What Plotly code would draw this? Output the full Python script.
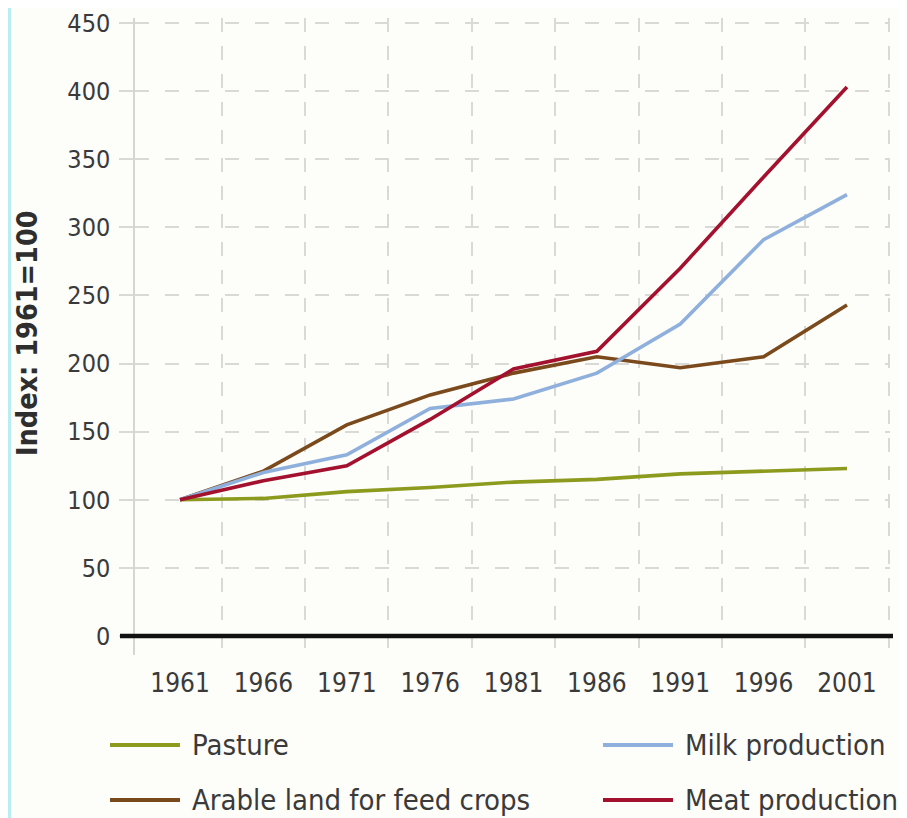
import plotly.graph_objects as go

# ---- data ----
years = [1961, 1966, 1971, 1976, 1981, 1986, 1991, 1996, 2001]
pasture = [100, 101, 106, 109, 113, 115, 119, 121, 123]
arable = [100, 121, 155, 177, 193, 205, 197, 205, 243]
milk = [100, 120, 133, 167, 174, 193, 229, 291, 324]
meat = [100, 114, 125, 159, 196, 209, 270, 337, 403]

series_names = ["Pasture", "Arable land for feed crops", "Milk production", "Meat production"]
series_values = [pasture, arable, milk, meat]
series_colors = ["#8c9a1e", "#7b4a1c", "#8fb0dc", "#a3112e"]

y_ticks = [0, 50, 100, 150, 200, 250, 300, 350, 400, 450]
year_bounds = [1963.5, 1968.5, 1973.5, 1978.5, 1983.5, 1988.5, 1993.5, 1998.5, 2003.5]
y_title = "Index: 1961=100"

FONT = "DejaVu Sans Condensed, DejaVu Sans, sans-serif"
TXT = "#3a3a3a"
GRID = "#d9d9d6"

OFF = 8  # page body margin in the browser
W, H = 907 - OFF, 818 - OFF
L, R, T, B = 127, 17, 10, 163
pw, ph = W - L - R, H - T - B


def px_x(p):
    return (p - OFF - L) / pw


def px_y(p):
    return (H - B - (p - OFF)) / ph


fig = go.Figure()
for name, vals, col in zip(series_names, series_values, series_colors):
    fig.add_trace(go.Scatter(x=years, y=vals, name=name, mode="lines",
                             line=dict(color=col, width=3.6), showlegend=False))

fig.update_layout(
    template="none",
    width=W, height=H,
    margin=dict(l=L, r=R, t=T, b=B, autoexpand=False),
    paper_bgcolor="#fdfdf9", plot_bgcolor="#fdfdf9",
    font=dict(family=FONT, color=TXT),
    xaxis=dict(range=[1958.3, 2003.58], tickvals=years, ticktext=[str(y) for y in years],
               showgrid=False, zeroline=False, showline=False, ticks="", automargin=False,
               tickfont=dict(family=FONT, size=26, color=TXT), ticklabelstandoff=10,
               minor=dict(tickvals=year_bounds, showgrid=True, gridcolor=GRID,
                          griddash="14px,14px", gridwidth=1.5)),
    yaxis=dict(range=[-13.95, 453.7], tickvals=y_ticks, showgrid=True, gridcolor=GRID,
               griddash="14px,16px", gridwidth=1.5, zeroline=False, automargin=False,
               showline=True, linecolor="#d5d5d2", linewidth=1.5,
               ticks="outside", ticklen=14, tickcolor=GRID, tickwidth=1.5,
               ticklabeloverflow="allow",
               tickfont=dict(family=FONT, size=25, color=TXT), ticklabelstandoff=4),
)

shapes = []
# thick black baseline at zero
shapes.append(dict(type="line", xref="paper", yref="y", x0=px_x(120), x1=px_x(893), y0=0, y1=0,
                   line=dict(color="#111111", width=4.5)))
# cyan border decoration on the left
shapes.append(dict(type="rect", xref="paper", yref="paper", x0=px_x(OFF), x1=px_x(11),
                   y0=px_y(818), y1=px_y(OFF), fillcolor="#b8eef1", line=dict(width=0), layer="above"))

# manual legend
leg_pos = [(110, 745), (110, 800), (603, 745), (603, 800)]
annotations = []
for (lx, ly), name, col in zip(leg_pos, series_names, series_colors):
    shapes.append(dict(type="line", xref="paper", yref="paper", x0=px_x(lx), x1=px_x(lx + 70),
                       y0=px_y(ly), y1=px_y(ly), line=dict(color=col, width=4)))
    annotations.append(dict(xref="paper", yref="paper", x=px_x(lx + 80), y=px_y(ly), text=name,
                            showarrow=False, xanchor="left", yanchor="middle",
                            font=dict(family=FONT, size=29, color=TXT)))

annotations.append(dict(xref="paper", yref="paper", x=px_x(27), y=px_y(333), text=y_title,
                        textangle=-90, showarrow=False, xanchor="center", yanchor="middle",
                        font=dict(family=FONT, size=28.5, color="#2e2e2e", weight="bold")))

fig.update_layout(shapes=shapes, annotations=annotations)
fig.write_html("out.html")
